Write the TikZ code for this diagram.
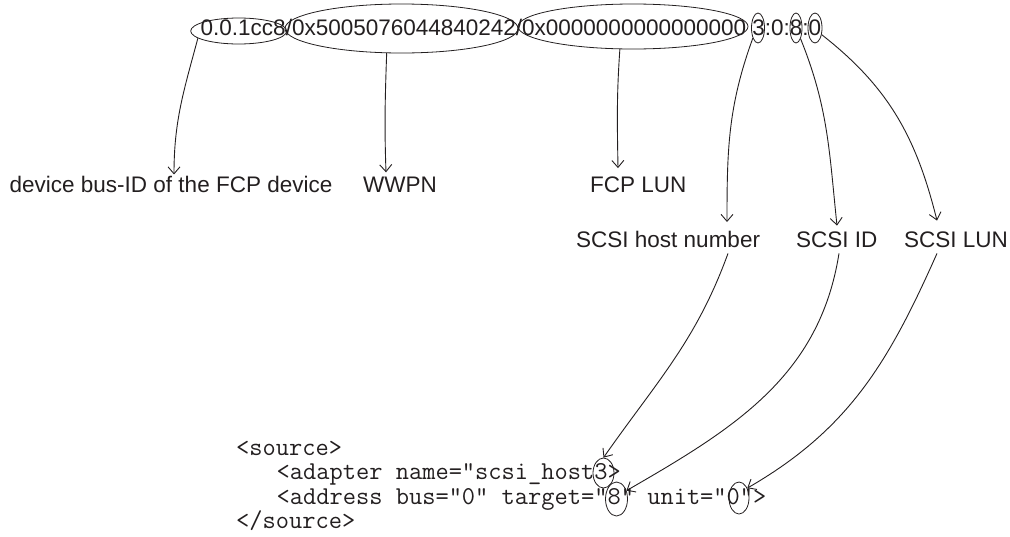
\documentclass[tikz,border=0pt]{standalone}
\usepackage{fontspec}
\setmainfont{Liberation Sans}
\usetikzlibrary{shapes.geometric,arrows.meta}
\definecolor{ink}{HTML}{231F20}
\begin{document}
\begin{tikzpicture}[x=1pt,y=1pt,
  lbl/.style={anchor=base west,inner sep=0pt,text=ink,font=\fontsize{22.5}{27}\selectfont},
  code/.style={anchor=base west,inner sep=0pt,text=ink,font=\ttfamily\fontsize{25.7}{30}\selectfont},
  ring/.style={draw=ink,ellipse,inner sep=0pt,line width=0.8pt},
  arr/.style={draw=ink,line width=0.9pt,-{Straight Barb[length=7pt,width=12pt,line width=0.9pt]}}]
\useasboundingbox (0,0) rectangle (1010,-536);
% top identifier
\node[lbl] (path) at (200.5,-35) {0.0.1cc8/0x5005076044840242/0x0000000000000000 3:0:8:0};
\node[ring,minimum width=96pt,minimum height=26pt] (e1) at (238.7,-31) {};
\node[ring,minimum width=233pt,minimum height=49pt] (e2) at (401.5,-28.5) {};
\node[ring,minimum width=230pt,minimum height=45pt] (e3) at (633,-26.5) {};
\node[ring,minimum width=13pt,minimum height=30pt] (e4) at (758,-28) {};
\node[ring,minimum width=12pt,minimum height=30pt] (e5) at (796,-28) {};
\node[ring,minimum width=14pt,minimum height=30pt] (e6) at (815,-28) {};
% labels
\node[lbl] (l1) at (9.5,-192) {device bus-ID of the FCP device};
\node[lbl] (l2) at (363,-192) {WWPN};
\node[lbl] (l3) at (590,-192) {FCP LUN};
\node[lbl] (l4) at (576,-247) {SCSI host number};
\node[lbl] (l5) at (796,-247) {SCSI ID};
\node[lbl] (l6) at (904,-247) {SCSI LUN};
% code
\node[code] (c1) at (236,-455) {<source>};
\node[code] (c2) at (276.5,-479.5) {<adapter name=”scsi\_host3>};
\node[code] (c3) at (276.5,-504) {<address bus=”0” target=”8” unit=”0”>};
\node[code] (c4) at (236,-528.5) {</source>};
\node[ring,minimum width=21pt,minimum height=30pt] (e7) at (603.5,-473) {};
\node[ring,minimum width=22pt,minimum height=34pt] (e8) at (616.5,-499) {};
\node[ring,minimum width=20pt,minimum height=32pt] (e9) at (739,-498) {};
% connectors
\draw[arr] (e1.190) to[out=255,in=90] ([xshift=164.5pt,yshift=1pt]l1.north west);
\draw[arr] (e2.239) to[out=268,in=92] ([xshift=23pt,yshift=4pt]l2.north west);
\draw[arr] (e3.240) to[out=266,in=91] ([xshift=28pt,yshift=8pt]l3.north west);
\draw[arr] (e4.243) to[out=250,in=90] ([xshift=151pt,yshift=8.5pt]l4.north west);
\draw[arr] (e5.293) to[out=292,in=96] ([xshift=41pt,yshift=5.5pt]l5.north west);
\draw[arr] (e6.315) to[out=322,in=104] ([xshift=33pt,yshift=10.5pt]l6.north west);
\draw[arr] ([xshift=152pt,yshift=-6pt]l4.south west) to[out=250,in=55] (e7.north);
\draw[arr] ([xshift=43pt,yshift=-6pt]l5.south west) to[out=261,in=30] (e8.40);
\draw[arr] ([xshift=33pt,yshift=-6pt]l6.south west) to[out=246,in=30] (e9.50);
\end{tikzpicture}
\end{document}
